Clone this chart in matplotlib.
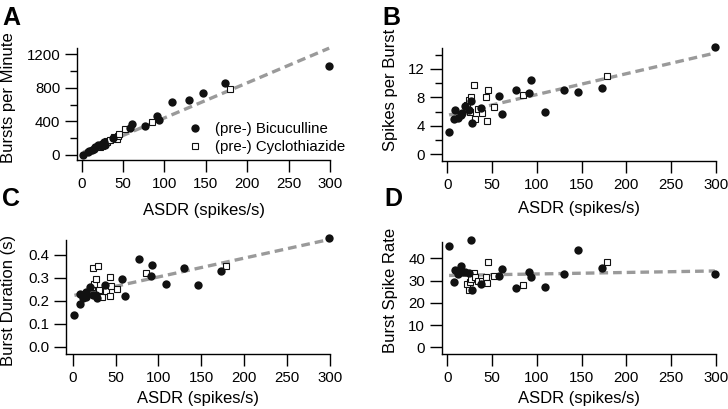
import matplotlib
matplotlib.use('Agg')
import matplotlib.pyplot as plt
import numpy as np
from matplotlib.ticker import MultipleLocator, FormatStrFormatter

plt.rcParams['font.family'] = ['Liberation Sans', 'DejaVu Sans']

# ASDR (spikes/s) for each recording, shared by all four panels
bic_asdr = [2, 8, 9, 12, 15, 16, 20, 24, 27, 28, 38, 58, 61, 77, 91, 93, 109, 130, 146, 173, 299]
cyc_asdr = [22, 24, 25, 27, 30, 31, 34, 39, 43, 44, 45, 52, 85, 179]

# A - bursts per minute
bic_bpm = [5, 35, 45, 55, 75, 95, 120, 135, 150, 115, 200, 320, 370, 343, 470, 418, 630, 658, 738, 857, 1060]
cyc_bpm = [100, 110, 120, 140, 170, 150, 180, 210, 190, 230, 250, 310, 390, 790]
# B - spikes per burst
bic_spb = [3.2, 5.0, 6.2, 5.1, 5.5, 5.8, 6.8, 6.2, 7.5, 4.4, 6.5, 8.2, 5.6, 9.0, 8.6, 10.4, 5.9, 9.0, 8.8, 9.3, 15.1]
cyc_spb = [7.0, 7.6, 6.0, 8.0, 9.7, 4.9, 6.4, 5.8, 8.1, 4.7, 9.1, 6.6, 8.4, 11.0]
# C - burst duration (s)
bic_dur = [0.136, 0.187, 0.231, 0.212, 0.217, 0.24, 0.26, 0.225, 0.224, 0.212, 0.268, 0.293, 0.221,
           0.382, 0.309, 0.356, 0.275, 0.341, 0.268, 0.331, 0.473]
cyc_dur = [0.26, 0.341, 0.275, 0.297, 0.353, 0.246, 0.217, 0.243, 0.302, 0.22, 0.265, 0.253, 0.322, 0.352]
# D - burst spike rate
bic_rate = [45.7, 29.2, 34.7, 33.0, 36.5, 34.0, 34.0, 33.5, 48.2, 25.8, 28.5, 32.2, 35.2, 26.5, 34.0,
            31.7, 27.0, 32.8, 43.7, 35.5, 32.8]
cyc_rate = [28.3, 25.8, 29.5, 30.7, 33.3, 31.5, 30.0, 29.8, 31.7, 28.8, 38.5, 32.0, 28.0, 38.2]

# linear fits (intercept, slope)
fit_intercepts = [24, 5.47, 0.222, 32.3]
fit_slopes = [4.18, 0.0293, 0.00082, 0.0068]

panel_letters = ['A', 'B', 'C', 'D']
y_labels = ['Bursts per Minute', 'Spikes per Burst', 'Burst Duration (s)', 'Burst Spike Rate']

fig = plt.figure(figsize=(7.28, 4.09), dpi=100)

# axes boxes in figure fractions
boxes = [[0.1058, 0.6088, 0.3475, 0.2731],
         [0.6067, 0.6064, 0.3764, 0.2763],
         [0.0907, 0.1345, 0.3626, 0.2787],
         [0.6067, 0.1345, 0.3764, 0.2746]]
ylims = [(-60, 1272), (-0.94, 14.95), (-0.032, 0.465), (-3.0, 47.5)]
xlims = [(-5.7, 300), (-6.3, 300), (-7.8, 300), (-6.3, 300)]
major = [400, 4, 0.1, 10]
minor = [200, 2, None, None]
ylab_coords = [(-0.241, 0.56), (-0.161, 0.63), (-0.189, 0.474), (-0.159, 0.57)]
xlab_y = [-0.385, -0.354, -0.325, -0.33]

bic_series = [bic_bpm, bic_spb, bic_dur, bic_rate]
cyc_series = [cyc_bpm, cyc_spb, cyc_dur, cyc_rate]

all_x = np.array(bic_asdr + cyc_asdr)
fit_x = np.array([all_x.min(), all_x.max()])

axes = []
for i in range(4):
    ax = fig.add_axes(boxes[i])
    axes.append(ax)
    ax.plot(fit_x, fit_intercepts[i] + fit_slopes[i] * fit_x, color='#9a9a9a', lw=2.4,
            dashes=(2.6, 1.5), zorder=1, clip_on=False)
    ax.plot(bic_asdr, bic_series[i], 'o', color='#111111', ms=6.0, mew=0, zorder=3,
            clip_on=False, label='(pre-) Bicuculline')
    ax.plot(cyc_asdr, cyc_series[i], 's', mfc='white', mec='#111111', ms=5.0, mew=0.8,
            zorder=2, clip_on=False, label='(pre-) Cyclothiazide')

    ax.set_xlim(*xlims[i])
    ax.set_ylim(*ylims[i])
    ax.xaxis.set_major_locator(MultipleLocator(50))
    ax.yaxis.set_major_locator(MultipleLocator(major[i]))
    if minor[i]:
        ax.yaxis.set_minor_locator(MultipleLocator(minor[i]))
    if i == 2:
        ax.yaxis.set_major_formatter(FormatStrFormatter('%.1f'))
    for s in ['top', 'right']:
        ax.spines[s].set_visible(False)
    for s in ['left', 'bottom']:
        ax.spines[s].set_linewidth(1.0)
    ax.tick_params(which='major', direction='out', length=8.5, width=1.0, labelsize=10.8, pad=3.5)
    ax.tick_params(which='minor', direction='out', length=4.8, width=1.0)
    ax.tick_params(axis='x', which='minor', length=0)

    ax.set_xlabel('ASDR (spikes/s)', fontsize=12)
    ax.xaxis.set_label_coords(0.5, xlab_y[i])
    ax.set_ylabel(y_labels[i], fontsize=12)
    ax.yaxis.set_label_coords(*ylab_coords[i])

axes[0].legend(loc='center left', bbox_to_anchor=(0.4375, 0.197), frameon=False, fontsize=10.8,
               borderpad=0, handlelength=1.0, handletextpad=0.8, labelspacing=0.25,
               borderaxespad=0)

letter_pos = [(2 / 728, 1 - 25 / 409), (382 / 728, 1 - 25 / 409),
              (2 / 728, 1 - 206 / 409), (384 / 728, 1 - 206 / 409)]
for letter, (x, y) in zip(panel_letters, letter_pos):
    fig.text(x, y, letter, fontsize=18, fontweight='bold', ha='left', va='baseline')

fig.savefig('out.png', dpi=100)
